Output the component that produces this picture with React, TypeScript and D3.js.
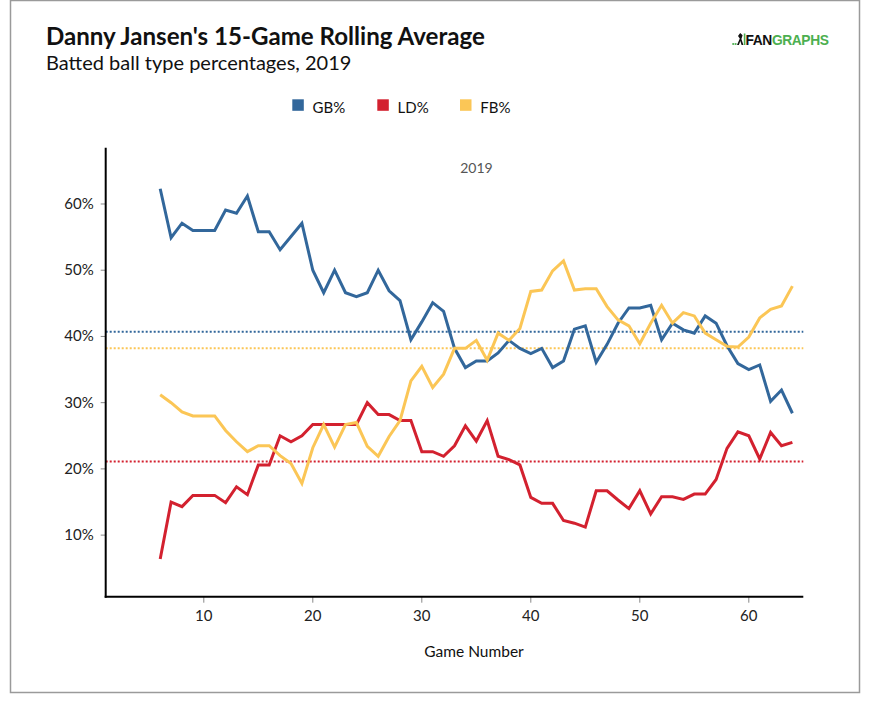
import * as d3 from "d3";

// Game numbers (rolling window starts at game 6)
const games: number[] = d3.range(6, 65);

const gbPct: number[] = [
  62.3, 54.9, 57.1, 56.0, 56.0, 56.0, 59.1, 58.6, 61.2, 55.8,
  55.8, 53.1, 55.1, 57.1, 50.0, 46.6, 50.0, 46.6, 46.0, 46.6,
  50.0, 46.9, 45.4, 39.5, 42.2, 45.1, 43.8, 38.2, 35.3, 36.3,
  36.3, 37.5, 39.4, 38.2, 37.4, 38.2, 35.3, 36.3, 41.1, 41.6,
  36.1, 38.8, 42.0, 44.3, 44.3, 44.7, 39.5, 42.0, 41.0, 40.5,
  43.1, 42.0, 38.6, 35.9, 35.0, 35.7, 30.2, 31.9, 28.4,
];

const ldPct: number[] = [
  6.4, 15.0, 14.3, 16.0, 16.0, 16.0, 14.9, 17.3, 16.1, 20.6,
  20.6, 25.0, 24.1, 25.0, 26.7, 26.7, 26.7, 26.7, 26.7, 30.0,
  28.2, 28.2, 27.3, 27.3, 22.6, 22.6, 21.9, 23.5, 26.5, 24.2,
  27.3, 21.9, 21.4, 20.6, 15.7, 14.8, 14.8, 12.2, 11.8, 11.2,
  16.7, 16.7, 15.3, 14.0, 16.7, 13.2, 15.8, 15.8, 15.4, 16.2,
  16.2, 18.4, 23.1, 25.6, 25.0, 21.5, 25.5, 23.5, 24.0,
];

const fbPct: number[] = [
  31.2, 30.0, 28.6, 28.0, 28.0, 28.0, 25.8, 24.1, 22.6, 23.5,
  23.5, 22.0, 20.8, 17.8, 23.2, 26.7, 23.3, 26.7, 27.0, 23.4,
  21.9, 24.9, 27.3, 33.3, 35.5, 32.3, 34.3, 38.2, 38.2, 39.4,
  36.4, 40.5, 39.4, 41.2, 46.8, 47.0, 49.9, 51.4, 47.0, 47.2,
  47.2, 44.5, 42.5, 41.6, 38.9, 42.0, 44.7, 42.0, 43.6, 43.1,
  40.5, 39.5, 38.5, 38.4, 39.9, 42.8, 44.1, 44.6, 47.6,
];

// season averages (dotted lines)
const seasonAvg: number[] = [40.7, 21.1, 38.2];

const seriesNames: string[] = ["GB%", "LD%", "FB%"];
const seriesColors: string[] = ["#32679b", "#d3212f", "#fbc656"];
const seriesValues: number[][] = [gbPct, ldPct, fbPct];

const xTicks: number[] = [10, 20, 30, 40, 50, 60];
const yTicks: number[] = [10, 20, 30, 40, 50, 60];

const FONT = "Lato, 'Open Sans', sans-serif";

export default function App() {
  const x = d3.scaleLinear().domain([1, 65]).range([105.7, 803.3]);
  const y = d3.scaleLinear().domain([0.7, 68.5]).range([596.7, 147.7]);

  const line = d3
    .line<number>()
    .x((_, i) => x(games[i]))
    .y((d) => y(d));

  const [x0, x1] = x.range();
  const [yBot, yTop] = y.range();

  const legendX = [292.3, 377.3, 460];

  return (
    <svg
      width={880}
      height={712}
      style={{ position: "absolute", left: 0, top: 0, background: "#fff" }}
      fontFamily={FONT}
    >
      {/* frame */}
      <rect x={10.5} y={0.5} width={849} height={692} fill="#fff" stroke="#9a9a9a" strokeWidth={1.5} />

      {/* titles */}
      <text x={46} y={44.5} fontSize={24.1} fontWeight={700} fill="#111">
        Danny Jansen's 15-Game Rolling Average
      </text>
      <text x={46} y={69.5} fontSize={20} fill="#111">
        Batted ball type percentages, 2019
      </text>

      {/* fangraphs logo */}
      <g transform="translate(732,33)">
        <circle cx={1.2} cy={11} r={1.1} fill="#4caf50" />
        <circle cx={3.6} cy={11} r={1.1} fill="#4caf50" />
        <path d="M5,12 L7.8,5.5 L6,3 L8.2,0 L10.6,2.2 L9.4,6 L11.4,12 L9.6,12 L8.3,8 L6.9,12 Z" fill="#111" />
        <rect x={11.8} y={0.5} width={1.6} height={11.5} fill="#4caf50" />
      </g>
      <text x={745.5} y={45} fontSize={13.8} fontWeight={700} fontFamily="'Liberation Sans', Arial, sans-serif" letterSpacing={-0.4}>
        <tspan fill="#111">FAN</tspan>
        <tspan fill="#4caf50">GRAPHS</tspan>
      </text>

      {/* legend */}
      {seriesNames.map((name, i) => (
        <g key={name}>
          <rect x={legendX[i]} y={99.3} width={11.5} height={11.5} fill={seriesColors[i]} />
          <text x={legendX[i] + 20.3} y={112.9} fontSize={15} fill="#111">
            {name}
          </text>
        </g>
      ))}

      {/* facet label */}
      <text x={476.5} y={172.7} fontSize={14} fill="#555" textAnchor="middle">
        2019
      </text>

      {/* season average dotted lines */}
      {seasonAvg.map((v, i) => (
        <line
          key={"avg" + i}
          x1={x0}
          x2={x1}
          y1={y(v)}
          y2={y(v)}
          stroke={seriesColors[i]}
          strokeWidth={2}
          strokeDasharray="2,2"
        />
      ))}

      {/* series lines */}
      {seriesValues.map((vals, i) => (
        <path
          key={"s" + i}
          d={line(vals) ?? ""}
          fill="none"
          stroke={seriesColors[i]}
          strokeWidth={3}
          strokeLinejoin="miter"
        />
      ))}

      {/* y axis */}
      {yTicks.map((t) => (
        <g key={"y" + t}>
          <line x1={x0 - 5} x2={x0} y1={y(t)} y2={y(t)} stroke="#888" strokeWidth={1} />
          <text x={x0 - 12} y={y(t) + 5} fontSize={15} fill="#222" textAnchor="end">
            {t}%
          </text>
        </g>
      ))}
      <line x1={x0} x2={x0} y1={yTop} y2={yBot + 1} stroke="#000" strokeWidth={2} />

      {/* x axis */}
      {xTicks.map((t) => (
        <g key={"x" + t}>
          <line x1={x(t)} x2={x(t)} y1={yBot} y2={yBot + 6} stroke="#888" strokeWidth={1} />
          <text x={x(t)} y={620.5} fontSize={15} fill="#222" textAnchor="middle">
            {t}
          </text>
        </g>
      ))}
      <line x1={x0 - 1} x2={x1} y1={yBot} y2={yBot} stroke="#000" strokeWidth={2} />

      <text x={474} y={657} fontSize={15.5} fill="#111" textAnchor="middle">
        Game Number
      </text>
    </svg>
  );
}
